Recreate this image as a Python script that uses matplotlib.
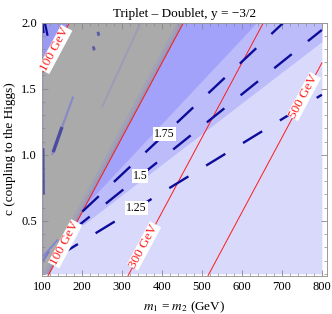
import numpy as np
import matplotlib
matplotlib.use("Agg")
import matplotlib.pyplot as plt
from matplotlib.ticker import MultipleLocator

plt.rcParams["font.family"] = ["Liberation Serif", "DejaVu Serif"]
plt.rcParams["mathtext.fontset"] = "stix"

# scan range
M_MIN, M_MAX = 100, 800
C_MIN, C_MAX = 0.1, 2.0

# red iso-mass lines: c = (m - offset) / MASS_SLOPE
MASS_SLOPE = 177.0
mass_labels = ["100 GeV", "300 GeV", "500 GeV", "100 GeV"]
mass_offsets = [100, 300, 500, -185]
mass_label_m = [158, 355, 755, 133]

# dashed ratio contours: c = slope * (m - m0)
ratio_levels = [1.25, 1.5, 1.75]
ratio_slopes = [0.00185, 0.00243, 0.00284]
ratio_m0 = [14, 0, 0]
ratio_label_m = [337, 345, 407]

# shaded bands (lower boundary c = slope * (m - m0))
band_slopes = [0.00232, 0.00322]
band_m0 = [0, 16]
band_colors = ["#bcbcfb", "#a2a2fb"]
BG_COLOR = "#d9d9fb"

# excluded (grey) region: layers above iso-mass lines
grey_offsets = [100, 91, 82]
grey_colors = ["#9898ba", "#a2a2b6", "#aaaaaa"]
CORNER_COLOR = "#9a9af2"

# numerical streaks inside the grey region (m pairs, c pairs)
streak_m = [(178, 125), (150, 128), (228, 231), (240, 242), (103, 104),
            (102, 140), (101, 118), (250, 347), (101, 104), (107, 114)]
streak_c = [(1.44, 1.00), (1.21, 1.02), (1.82, 1.79), (1.93, 1.90), (1.05, 0.70),
            (0.23, 0.36), (0.19, 0.27), (1.36, 2.00), (2.00, 1.92), (2.00, 1.90)]
streak_col = ["#8a8ac4", "#4a4aa2", "#5a5aa8", "#5a5aa8", "#5050b0",
              "#8686d0", "#7a7acc", "#9c9cb6", "#0c0c9a", "#0c0c9a"]
streak_lw = [1.6, 2.4, 2.0, 2.0, 1.8, 1.4, 1.4, 1.4, 1.6, 1.6]

RED = "#ff1a1a"
NAVY = "#0c0c9a"


def mass_line(m, off):
    return (m - off) / MASS_SLOPE


def main():
    fig = plt.figure(figsize=(3.32, 3.14), dpi=100)
    ax = fig.add_axes([0.1265, 0.122, 0.8575, 0.8063])
    ax.set_xlim(M_MIN, 812)
    ax.set_ylim(0.086, C_MAX)

    m = np.linspace(M_MIN, M_MAX, 800)

    ax.fill_between(m, C_MIN, C_MAX, color=BG_COLOR, lw=0)
    for s, m0, col in zip(band_slopes, band_m0, band_colors):
        low = np.clip(s * (m - m0), C_MIN, C_MAX)
        ax.fill_between(m, low, C_MAX, color=col, lw=0)
    for off, col in zip(grey_offsets, grey_colors):
        low = np.clip(mass_line(m, off), C_MIN, C_MAX)
        ax.fill_between(m, low, C_MAX, color=col, lw=0)
    # bluish strip along the left edge
    ax.fill_betweenx([C_MIN, 1.62], M_MIN, 106, color="#a0a0bc", lw=0)
    low = np.clip(mass_line(m, mass_offsets[-1]), C_MIN, C_MAX)
    ax.fill_between(m, low, C_MAX, color=CORNER_COLOR, lw=0)

    for mm, cc, col, lw in zip(streak_m, streak_c, streak_col, streak_lw):
        ax.plot(mm, cc, color=col, lw=lw, solid_capstyle="butt")

    # iso-mass lines
    for off in mass_offsets:
        ax.plot(m, mass_line(m, off), color=RED, lw=0.7)

    # dashed ratio contours
    for lev, s, m0, lm in zip(ratio_levels, ratio_slopes, ratio_m0, ratio_label_m):
        ms = (mass_offsets[0] / MASS_SLOPE - s * m0) / (1 / MASS_SLOPE - s)
        me = min(M_MAX, m0 + C_MAX / s)
        ax.plot([ms, me], [s * (ms - m0), s * (me - m0)], color=NAVY, lw=1.7,
                dashes=(9.5, 8.8), dash_capstyle="butt")
        ax.text(lm, s * (lm - m0), f"{lev:g}", fontsize=8.5, ha="center",
                va="center", zorder=5,
                bbox=dict(facecolor="white", edgecolor="none", pad=0.8))

    # labels on the iso-mass lines
    d_ang = np.degrees(np.arctan(1 / MASS_SLOPE))
    for lab, off, lm in zip(mass_labels, mass_offsets, mass_label_m):
        c = mass_line(lm, off)
        ang = ax.transData.transform_angles(np.array([d_ang]),
                                            np.array([[lm, c]]))[0]
        ax.text(lm, c, lab, color=RED, fontsize=9.5, rotation=ang,
                rotation_mode="anchor", ha="center", va="center", zorder=5,
                bbox=dict(facecolor="white", edgecolor="none", pad=0.3))

    ax.set_title("Triplet \u2013 Doublet, y = \u22123/2", fontsize=9.5, pad=4)
    ax.set_xlabel("$m_1$ = $m_2$ (GeV)", fontsize=9.5, labelpad=5)
    ax.set_ylabel("c (coupling to the Higgs)", fontsize=9.5, labelpad=4)

    ax.xaxis.set_major_locator(MultipleLocator(100))
    ax.xaxis.set_minor_locator(MultipleLocator(20))
    ax.yaxis.set_major_locator(MultipleLocator(0.5))
    ax.yaxis.set_minor_locator(MultipleLocator(0.1))
    ax.tick_params(which="both", direction="in", top=True, right=True,
                   color="#888888", labelsize=9)
    ax.tick_params(which="major", length=4, width=0.6)
    ax.tick_params(which="minor", length=2, width=0.5)
    for sp in ax.spines.values():
        sp.set_color("#999999")
        sp.set_linewidth(0.7)

    fig.savefig("out.png", dpi=100)
    plt.close(fig)


if __name__ == "__main__":
    main()
